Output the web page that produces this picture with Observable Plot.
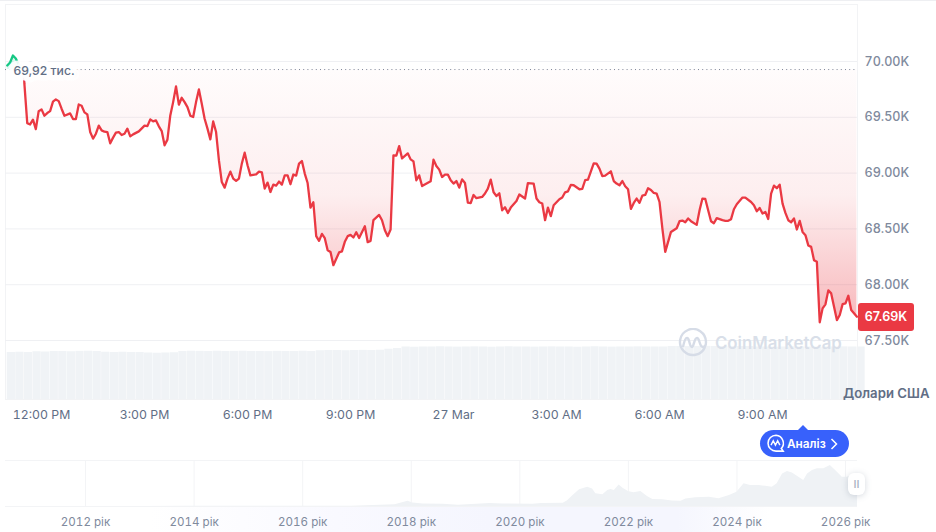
<!DOCTYPE html>
<html><head><meta charset="utf-8">
<script src="https://cdn.jsdelivr.net/npm/d3@7"></script>
<script src="https://cdn.jsdelivr.net/npm/@observablehq/plot@0.6"></script>
<style>
html,body{margin:0;background:#fff;font-family:Inter,"Noto Sans",sans-serif}
#c{position:relative;width:936px;height:532px;overflow:hidden}
#c>svg,#c>div,#c>.p{position:absolute}
#c svg{background:transparent}
</style></head><body><div id="c"></div>
<script>
// Price series: minutes after 12:00 PM (26 Mar), price in USD
const greenMinutes=[-60,-55,-50,-45,-40,-35,-31];
const greenPrices=[69964,69991,70054,70027,69973,69955,69928];
const redMinutes=[-31,-30,-25,-20,-15,-10,-5,0,5,10,15,20,25,30,35,40,50,55,60,65,70,75,80,85,90,95,100,105,110,115,120,125,130,135,140,145,150,155,160,170,180,185,190,195,200,205,210,215,220,225,230,235,240,245,250,255,260,265,270,275,280,285,290,295,300,305,310,315,320,325,330,335,340,345,350,355,360,365,375,380,385,390,395,400,405,410,415,420,425,430,435,440,445,450,455,460,465,470,475,480,485,490,495,500,505,510,520,525,530,535,540,545,550,555,565,570,575,580,590,595,600,605,610,615,620,625,630,640,645,650,655,660,665,680,685,690,695,700,705,710,715,720,725,730,735,740,745,750,755,760,770,775,780,785,790,795,800,805,810,815,820,830,835,845,850,860,865,870,875,880,885,890,895,905,910,915,920,925,930,940,945,950,955,965,970,975,980,985,995,1000,1005,1010,1015,1020,1025,1030,1035,1040,1045,1050,1055,1060,1065,1070,1075,1080,1085,1090,1095,1100,1110,1115,1120,1125,1130,1135,1145,1150,1155,1160,1165,1170,1175,1180,1190,1195,1200,1205,1210,1215,1225,1230,1240,1245,1250,1255,1260,1265,1270,1275,1280,1285,1290,1295,1300,1305,1310,1315,1320,1325,1330,1335,1340,1345,1350,1355,1360,1365,1370,1375,1380,1390,1395,1400,1405,1410,1415,1425];
const redPrices=[69928,69801,69448,69436,69479,69394,69555,69571,69514,69538,69555,69640,69660,69645,69577,69514,69535,69484,69484,69615,69604,69544,69526,69368,69309,69353,69425,69383,69371,69368,69267,69318,69362,69368,69341,69353,69398,69329,69347,69374,69425,69421,69481,69463,69472,69419,69377,69249,69300,69517,69636,69776,69613,69675,69636,69591,69514,69502,69636,69750,69622,69487,69398,69302,69463,69368,69114,68920,68870,68951,69013,68951,68930,68951,69085,69183,69070,68980,68989,69013,69007,68861,68915,68831,68897,68888,68924,68897,68980,68980,68900,68987,68978,69085,69108,68996,68911,68691,68739,68435,68393,68455,68417,68309,68294,68175,68289,68298,68384,68435,68446,68423,68470,68419,68524,68381,68393,68578,68625,68578,68488,68435,68495,69159,69156,69242,69132,69177,69123,69105,68936,68980,68884,68927,69121,69063,69031,68965,68987,68987,68936,68906,68929,68870,68944,68911,68736,68732,68804,68775,68786,68817,68861,68942,68828,68795,68819,68667,68694,68643,68691,68750,68808,68772,68911,68906,68772,68739,68727,68578,68691,68614,68712,68766,68781,68828,68837,68894,68891,68855,68858,68936,68942,69088,69085,69040,68974,68978,69016,68929,68906,68891,68929,68882,68855,68679,68733,68772,68733,68798,68804,68864,68849,68822,68817,68741,68503,68294,68384,68473,68506,68569,68575,68560,68593,68569,68536,68667,68772,68768,68667,68569,68551,68596,68578,68572,68572,68587,68676,68721,68781,68781,68741,68712,68658,68688,68638,68652,68589,68817,68888,68864,68897,68727,68643,68578,68560,68593,68495,68572,68473,68444,68352,68339,68220,68205,67663,67788,67824,67949,67922,67683,67728,67826,67833,67901,67773,67713];
const referencePrice=69928;
const referenceLabel="69,92 тис.";
const lastLabel="67.69K";
const priceTicks=[67500,68000,68500,69000,69500,70000];
const timeTicks=[0,180,360,540,720,900,1080,1260];
const timeLabels=["12:00 PM","3:00 PM","6:00 PM","9:00 PM","27 Mar","3:00 AM","6:00 AM","9:00 AM"];
// Volume, USD billions, 15-minute buckets starting at -60
const volumes=[37.6,37.8,37.6,38.2,38.0,38.4,38.4,38.2,38.5,38.6,38.4,37.8,37.6,37.8,37.6,37.6,37.2,37.0,37.2,37.4,38.4,38.6,38.5,38.4,38.6,38.4,38.5,38.6,38.4,38.4,38.3,38.5,38.4,38.4,38.6,38.4,39.0,39.2,39.2,39.0,39.2,39.3,39.2,39.4,40.2,40.8,42.0,41.8,42.0,42.0,42.2,42.0,41.9,42.0,42.1,42.0,41.8,42.0,42.2,42.0,42.0,41.9,42.0,42.1,42.0,42.0,41.8,42.0,42.2,42.0,41.9,42.0,42.0,42.1,42.0,42.0,42.0,42.4,42.4,42.3,42.4,42.5,42.4,42.4,42.3,42.4,42.4,42.0,42.0,41.9,42.0,42.1,42.0,42.0,41.9,42.0,42.0,42.1,42.0,42.0];
const volumeStep=15, volumeStart=-60;
// Long-term history: year, price in thousands of USD
const historyYears=[2010.53,2013.0,2013.9,2014.5,2016.0,2016.9,2017.7,2017.94,2018.03,2018.22,2018.59,2018.87,2019.45,2019.69,2020.24,2020.4,2020.8,2020.88,2020.98,2021.1,2021.25,2021.34,2021.4,2021.53,2021.62,2021.68,2021.74,2021.83,2021.9,2022.0,2022.1,2022.23,2022.35,2022.45,2022.63,2022.81,2022.97,2023.06,2023.24,2023.49,2023.67,2023.86,2024.0,2024.13,2024.25,2024.41,2024.53,2024.65,2024.74,2024.84,2024.93,2025.02,2025.14,2025.23,2025.3,2025.39,2025.48,2025.6,2025.72,2025.85,2025.94,2026.03,2026.12,2026.22];
const historyPrices=[0.1,0.1,1,0.5,0.4,0.9,5,16,11,7.5,7,4,9,8,7,9,10,18,34,51,59,54,39,36,49,52,49,66,56,46,42,46,31,21.5,21,17,16,23,27,28,23.6,34,44,70,64.5,64,62,59,70,100,107,103,90,80,100,110,116,116,126,105,90,90,95,70];
const yearTicks=[2012,2014,2016,2018,2020,2022,2024,2026];
const yearSuffix=" рік";
const unitLabel="Долари США";
const buttonLabel="Аналіз";
const brandLabel="CoinMarketCap";

const zip=(a,b)=>a.map((m,i)=>({m,p:b[i]}));
const red=zip(redMinutes,redPrices), green=zip(greenMinutes,greenPrices);
const font={fontFamily:"Inter, 'Noto Sans', sans-serif",fontSize:"13px",background:"transparent",position:"absolute",left:"0",top:"0"};
const c=document.getElementById("c");
const xDomain=[-63,1426], xRange=[5,857];

const defs=()=>{const d=d3.create("svg:defs");
 d.html(`<linearGradient id="lossGrad" x1="0" y1="0" x2="0" y2="1"><stop offset="0" stop-color="#ea3943" stop-opacity="0.015"/><stop offset="0.5" stop-color="#ea3943" stop-opacity="0.085"/><stop offset="1" stop-color="#ea3943" stop-opacity="0.36"/></linearGradient>`);
 return d.node();};

const vol=Plot.plot({width:936,height:532,style:font,marginTop:4,marginLeft:5,marginRight:79,marginBottom:133,
 x:{domain:xDomain,range:xRange,axis:null},y:{domain:[0,42.4],range:[399,346],axis:null},
 marks:[Plot.rectY(volumes,{x1:(d,i)=>volumeStart+i*volumeStep,x2:(d,i)=>volumeStart+(i+1)*volumeStep,y:d=>d,fill:"#f0f3f6",insetRight:0.35})]});
c.append(vol);

const main=Plot.plot({width:936,height:532,style:font,marginTop:4,marginLeft:5,marginRight:79,marginBottom:133,
 x:{domain:xDomain,range:xRange},y:{domain:[67500,70000],range:[340,61]},
 marks:[defs,
  Plot.frame({stroke:"#f2f3f5"}),
  Plot.gridY(priceTicks,{stroke:"#eff0f3",strokeOpacity:1}),
  Plot.areaY(green,{x:"m",y1:()=>referencePrice,y2:"p",fill:"#16c784",fillOpacity:0.15}),
  Plot.areaY(red,{x:"m",y1:()=>referencePrice,y2:"p",fill:"url(#lossGrad)"}),
  Plot.ruleY([referencePrice],{stroke:"#7d8799",strokeDasharray:"1 3.2",strokeWidth:1}),
  Plot.line(green,{x:"m",y:"p",stroke:"#16c784",strokeWidth:2.3}),
  Plot.line(red,{x:"m",y:"p",stroke:"#ea3943",strokeWidth:2.3}),
  Plot.text([referenceLabel],{x:()=>-49,y:()=>referencePrice,text:d=>d,textAnchor:"start",dy:2,fontSize:12.2,fontWeight:500,fill:"#616e85",stroke:"#fff",strokeWidth:11,strokeOpacity:0.92,paintOrder:"stroke"}),
  Plot.axisX(timeTicks,{tickSize:0,tickPadding:11,fontSize:12.3,fill:"#616e85",tickFormat:(d,i)=>timeLabels[timeTicks.indexOf(d)],label:null}),
  Plot.axisY(priceTicks,{anchor:"right",tickSize:0,tickPadding:7,fontSize:12.6,fontWeight:500,fill:"#808a9d",tickFormat:d=>(d/1000).toFixed(2)+"K",label:null})
 ]});
c.append(main);

const over=Plot.plot({width:936,height:532,style:font,marginTop:460,marginLeft:5,marginRight:79,marginBottom:26,
 x:{domain:[2010.526,2026.22],range:xRange},y:{domain:[0,141],range:[506,460],axis:null},
 marks:[
  Plot.ruleX(yearTicks,{stroke:"#f3f4f6"}),
  Plot.ruleY([0,141],{stroke:"#f3f4f6"}),
  Plot.areaY(zip(historyYears,historyPrices),{x:"m",y:"p",fill:"#eff2f5"}),
  Plot.axisX(yearTicks,{tickSize:0,tickPadding:11,fontSize:11.6,fill:"#808a9d",tickFormat:d=>d+yearSuffix,label:null})
 ]});
// soft lavender band sits under the overview
const band=document.createElement("div");
band.style.cssText="left:150px;top:506px;width:620px;height:26px;background:linear-gradient(90deg,rgba(245,246,255,0),#f9f9ff 30%,#f5f6fe 55%,#f5f6fe 85%,rgba(245,246,255,0))";
c.append(band);
c.append(over);

const overlay=document.createElement("div");
overlay.style.cssText="left:0;top:0;width:936px;height:532px;pointer-events:none";
overlay.innerHTML=`
<div style="position:absolute;left:0;top:0;width:936px;height:1px;background:#eeeff2"></div>
<div style="position:absolute;left:858px;top:303px;width:56px;height:28px;background:#ea3943;border-radius:3px;color:#fff;font:600 12.6px/28px Inter;text-align:center">${lastLabel}</div>
<div style="position:absolute;left:843px;top:385px;font:600 13.2px/16px Inter;color:#616e85;white-space:nowrap">${unitLabel}</div>
<svg style="position:absolute;left:678px;top:328px" width="30" height="30" viewBox="0 0 30 30" fill="none" stroke="#d6dce7" stroke-width="2.4"><path d="M27 19A13 13 0 1 1 28 14c0 3-1 5-3 5-4 0-3-9-6-9-3 0-3 9-5 9-3 0-2-9-5-9-2 0-3 4-4 9"/></svg>
<div style="position:absolute;left:715px;top:332px;font:600 16.8px/22px Inter;color:#d9dfe9;white-space:nowrap">${brandLabel}</div>
<div style="position:absolute;left:797px;top:425px;width:0;height:0;border-left:6px solid transparent;border-right:6px solid transparent;border-bottom:6px solid #3861fb"></div>
<div style="position:absolute;left:760px;top:430px;width:89px;height:27px;border-radius:14px;background:#3861fb"></div>
<svg style="position:absolute;left:766px;top:433px" width="20" height="21" viewBox="0 0 18 19" fill="none" stroke="#fff" stroke-width="1.4"><path d="M9 2a7.2 7.2 0 1 0 0 14.4h6.5l-1.7-2.4A7.2 7.2 0 0 0 9 2z"/><path d="M4.5 11l2-4 2 4 2-4 2 4" stroke-width="1.3"/></svg>
<div style="position:absolute;left:787px;top:436px;font:600 11.8px/16px Inter;color:#fff;white-space:nowrap">${buttonLabel}</div>
<svg style="position:absolute;left:830px;top:438px" width="8" height="12" viewBox="0 0 8 12" fill="none" stroke="#fff" stroke-width="1.5"><path d="M1.5 1l5 5-5 5"/></svg>
<div style="position:absolute;left:848px;top:473px;width:17px;height:22px;background:#fff;border-radius:6px;box-shadow:0 1px 6px rgba(88,102,126,.25);color:#a6b0c3;font:500 11px/22px Inter;text-align:center">II</div>`;
c.append(overlay);
</script></body></html>
